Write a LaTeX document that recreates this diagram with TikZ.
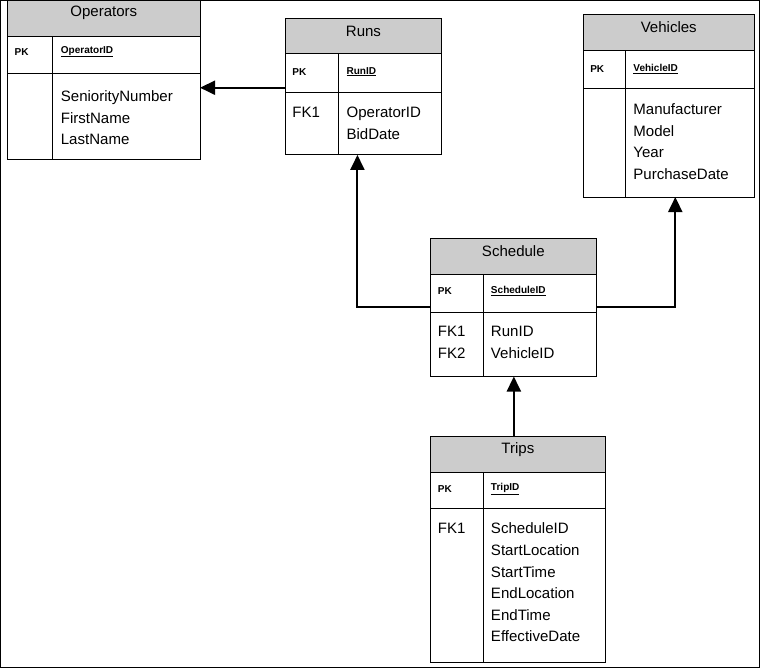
\documentclass[tikz,border=0pt]{standalone}
\usepackage{fontspec}
\setmainfont{Liberation Sans}
\usetikzlibrary{arrows.meta,positioning,fit}
\tikzset{
	tbl/.style={draw, line width=1pt, inner sep=0, outer sep=0},
	hdr/.style={tbl, fill=black!20},
	key/.style={inner sep=0, anchor=west, font=\bfseries},
	fld/.style={inner sep=0, anchor=north west, align=left},
	rel/.style={line width=2pt, -{Triangle[length=15pt,width=14pt]}}
}
% #1 name, #2 left, #3 top, #4 right, #5 divider, #6 header bottom, #7 key bottom, #8 bottom, #9 title
\newcommand{\ertable}[9]{
	\node[hdr, fit={(#2,#3) (#4,#6)}] (#1H) {#9};
	\node[tbl, fit={(#2,#6) (#4,#7)}] (#1K) {};
	\node[tbl, fit={(#2,#7) (#4,#8)}] (#1B) {};
	\draw[line width=1pt] (#5,#6) -- (#5,#8);
}
\begin{document}
\begin{tikzpicture}[x=1pt, y=-1pt, font=\fontsize{15}{21.5}\selectfont]
	\draw[line width=1pt] (1,1) rectangle (758,666);
	% tables
	\ertable{op}{8}{1}{200}{53}{37}{74}{160}{Operators}
	\ertable{run}{285}{19}{441}{338}{54}{93}{155}{Runs}
	\ertable{veh}{582}{15}{753}{624}{51}{89}{197}{Vehicles}
	\ertable{sch}{430}{238}{595}{483}{274}{312}{376}{Schedule}
	\ertable{trip}{430}{436}{604}{483}{472}{508}{661}{Trips}
	% keys
	\node[key] (opPK) at (15,52) {PK};
	\node[key] (opID) at (61,52) {\underline{OperatorID}};
	\node[fld] (opF) at (61,91) {SeniorityNumber\\FirstName\\LastName};
	\node[key] (runPK) at (292,72) {PK};
	\node[key] (runID) at (346,72) {\underline{RunID}};
	\node[fld] (runFK) at (292,107) {FK1};
	\node[fld] (runF) at (346,107) {OperatorID\\BidDate};
	\node[key] (vehPK) at (589,69) {PK};
	\node[key] (vehID) at (632,69) {\underline{VehicleID}};
	\node[fld] (vehF) at (632,104) {Manufacturer\\Model\\Year\\PurchaseDate};
	\node[key] (schPK) at (437,291) {PK};
	\node[key] (schID) at (490,291) {\underline{ScheduleID}};
	\node[fld] (schFK) at (437,326) {FK1\\FK2};
	\node[fld] (schF) at (490,326) {RunID\\VehicleID};
	\node[key] (tripPK) at (437,488) {PK};
	\node[key] (tripID) at (490,488) {\underline{TripID}};
	\node[fld] (tripFK) at (437,522) {FK1};
	\node[fld] (tripF) at (490,522) {ScheduleID\\StartLocation\\StartTime\\EndLocation\\EndTime\\EffectiveDate};
	% relations
	\coordinate (c1) at (357,307);
	\coordinate (c2) at (674,307);
	\draw[rel] (runK.south west |- 0,88) -- (opB.north east |- 0,88);
	\draw[rel] (schK.west |- c1) -- (c1) -- (c1 |- runB.south);
	\draw[rel] (schK.east |- c2) -- (c2) -- (c2 |- vehB.south);
	\draw[rel] (tripH.north -| 513,0) -- (schB.south -| 513,0);
\end{tikzpicture}
\end{document}
